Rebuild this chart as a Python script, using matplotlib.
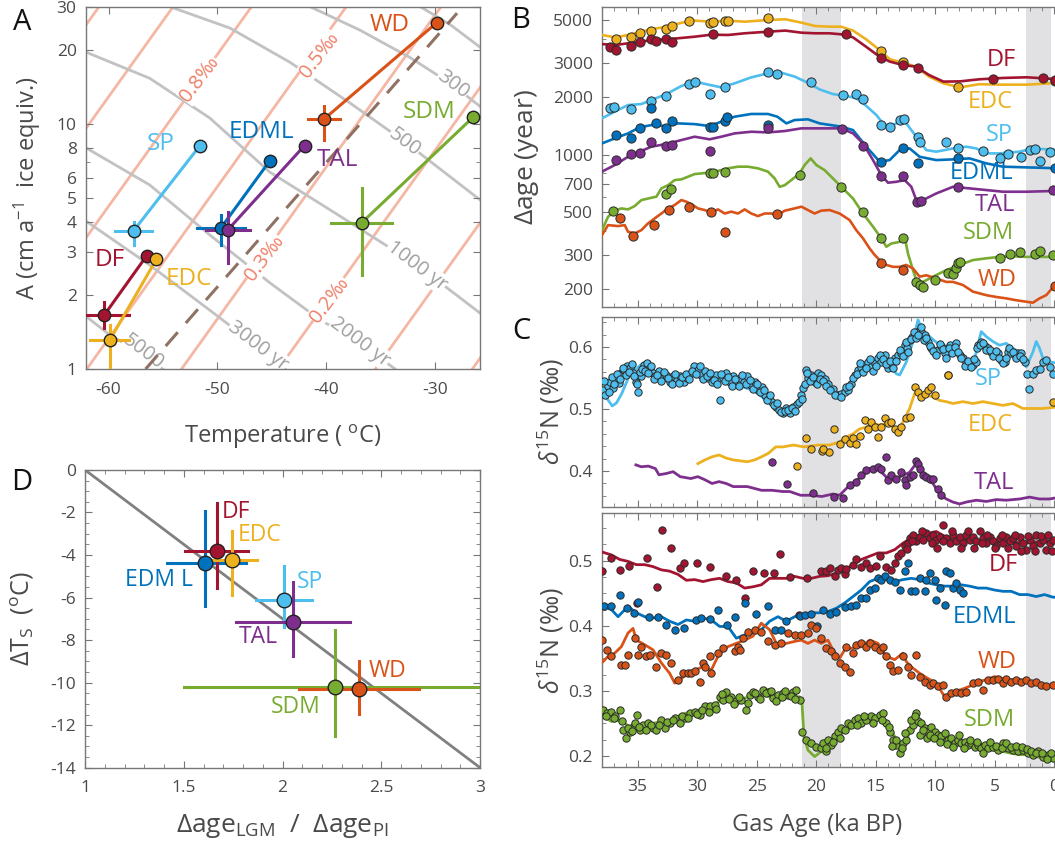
import numpy as np
import matplotlib.pyplot as plt
from matplotlib.ticker import MultipleLocator, FixedLocator, NullFormatter

plt.rcParams['font.family'] = ['Open Sans', 'DejaVu Sans']
plt.rcParams['mathtext.fontset'] = 'custom'
plt.rcParams['mathtext.rm'] = 'Open Sans'
plt.rcParams['mathtext.it'] = 'Open Sans:italic'
plt.rcParams['axes.unicode_minus'] = False

TXT = '#4a4a4a'
C_DF, C_EDC, C_SP = '#a2142f', '#edb120', '#4dbeee'
C_EDML, C_TAL, C_SDM, C_WD = '#0072bd', '#7e2f8e', '#77ac30', '#d95319'
BAND = '#e1e1e4'

# ---------------- panel A: accumulation vs temperature ----------------
a_sites = ['DF', 'EDC', 'SP', 'EDML', 'TAL', 'WD', 'SDM']
a_colors = [C_DF, C_EDC, C_SP, C_EDML, C_TAL, C_WD, C_SDM]
a_T_lgm = [-60.4, -59.9, -57.7, -49.7, -49.05, -40.2, -36.75]
a_A_lgm = [1.66, 1.31, 3.67, 3.76, 3.70, 10.5, 3.96]
a_T_pi = [-56.5, -55.6, -51.6, -45.2, -42.0, -29.85, -26.5]
a_A_pi = [2.90, 2.81, 8.18, 7.08, 8.18, 26.0, 10.7]
a_T_err = [2.3, 1.8, 1.7, 2.2, 2.0, 1.45, 2.8]
a_A_lo = [1.47, 0.9, 3.21, 3.21, 2.70, 8.6, 2.42]
a_A_hi = [1.88, 1.51, 4.0, 4.26, 4.38, 11.9, 5.47]
a_label_T = [-61.3, -54.8, -56.5, -49.0, -40.9, -36.0, -33.0]
a_label_A = [2.79, 2.33, 8.3, 9.3, 7.14, 25.5, 11.2]

# delta-age contours (T, A)
age_contours = {
    '200': [(-31.39, 30.2), (-28.63, 25.5), (-25.87, 20.6)],
    '300': [(-41.51, 30.2), (-36.91, 24.2), (-32.31, 18.7), (-28.44, 14.5), (-25.87, 11.8)],
    '500': [(-54.39, 30.2), (-48.87, 24.7), (-43.35, 17.9), (-37.83, 12.2), (-32.77, 8.46),
            (-25.87, 4.9)],
    '1000': [(-62.21, 19.8), (-56.23, 15.4), (-50.71, 10.6), (-45.19, 6.37), (-39.67, 4.47),
             (-31.67, 2.66), (-25.87, 1.69)],
    '2000': [(-62.21, 8.07), (-56.23, 5.65), (-50.71, 3.53), (-45.19, 2.25), (-40.59, 1.59),
             (-36.91, 1.28), (-33.69, 1.0)],
    '3000': [(-62.21, 4.06), (-56.23, 2.66), (-50.71, 1.74), (-46.29, 1.23), (-43.81, 1.0)],
    '5000': [(-62.21, 1.66), (-59.91, 1.38), (-56.69, 1.14), (-55.03, 1.0)],
}
age_labels = [('300', -28.4, 14.5), ('500', -32.8, 8.46), ('1000 yr', -31.7, 2.64),
              ('2000 yr', -36.9, 1.29), ('3000 yr', -46.3, 1.24), ('5000', -56.8, 1.17)]
# d15N contours: temperature where each line meets A = 1 and A = 40
d15n_lines = [(-84.7, -58.9), (-77.9, -52.1), (-70.7, -44.9), (-62.0, -36.2),
              (-53.3, -27.5), (-44.4, -18.6), (-35.5, -9.7), (-26.6, -0.8)]
d15n_labels = [('0.8‰', -51.6, 15.2), ('0.5‰', -40.6, 19.2), ('0.3‰', -45.7, 2.84), ('0.2‰', -39.7, 1.91)]
a_dash_T = [-56.6, -28.0]
a_dash_A = [1.0, 28.4]

# ---------------- panel B: delta age ----------------
b_edc_line = [(38.0, 4180), (36.9, 4063), (35.8, 4180), (34.7, 4348), (33.85, 4475), (32.6, 4615),
              (31.3, 4840), (30.2, 4963), (28.8, 4900), (27.4, 4963), (26.0, 4900), (24.05, 5000),
              (22.6, 5047), (21.2, 4840), (20.1, 4653), (18.9, 4620), (17.9, 4615), (16.9, 4405),
              (15.8, 3970), (14.66, 3491), (13.8, 3126), (12.7, 3000), (11.6, 2862), (10.5, 2541),
              (9.3, 2344), (7.9, 2234), (6.3, 2320), (4.3, 2307), (2.3, 2307), (-0.5, 2360)]
b_edc_dots = [(36.79, 3970), (35.59, 4063), (34.83, 4266), (33.85, 4405), (32.59, 4475), (32.11, 4653),
              (30.69, 4963), (28.95, 4840), (28.67, 4900), (27.69, 4963), (27.41, 4963), (24.05, 5100),
              (14.52, 3450), (12.70, 3040), (8.08, 2250), (-0.1, 2400)]
b_df_line = [(38.0, 3750), (36.9, 3707), (35.8, 3784), (34.8, 3848), (33.85, 3936), (32.6, 3970),
             (31.6, 4020), (30.2, 4096), (28.8, 4195), (27.4, 4180), (26.0, 4266), (24.05, 4348),
             (22.6, 4405), (21.2, 4295), (20.1, 4266), (18.9, 4266), (17.9, 4215), (16.9, 4063),
             (15.8, 3631), (14.66, 3222), (13.8, 3040), (12.7, 2917), (11.6, 2862), (10.5, 2588),
             (9.3, 2393), (7.9, 2400), (6.3, 2460), (4.3, 2500), (2.3, 2520), (-0.5, 2460)]
b_df_dots = [(37.35, 3631), (36.79, 3491), (35.59, 3664), (34.83, 3857), (33.85, 3970), (33.43, 3906),
             (32.59, 3970), (32.11, 3830), (28.67, 4215), (24.05, 4313), (17.47, 4215), (14.52, 3187),
             (12.70, 2917), (11.44, 2805), (5.14, 2478), (0.94, 2510), (-0.04, 2438)]
b_sp_line = [(38.0, 1542), (36.93, 1671), (35.81, 1808), (34.69, 1830), (33.85, 1919), (32.59, 2061),
             (31.33, 2270), (30.21, 2393), (28.95, 2300), (27.97, 2234), (26.85, 2344), (25.45, 2518),
             (24.05, 2642), (22.93, 2663), (21.81, 2541), (20.69, 2360), (19.71, 2180), (18.59, 2061),
             (17.47, 2015), (16.63, 1963), (15.78, 1788), (14.94, 1605), (14.38, 1452), (13.82, 1396),
             (12.98, 1481), (12.42, 1452), (11.58, 1238), (10.74, 1055), (9.90, 1035), (8.50, 1076),
             (7.38, 1099), (6.54, 1076), (5.70, 1014), (4.58, 1014), (2.90, 1035), (1.78, 1076),
             (-0.5, 1055)]
b_sp_dots = [(37.35, 1738), (36.99, 1774), (35.59, 1716), (33.85, 1897), (32.59, 2023), (30.69, 2326),
             (30.21, 2393), (28.95, 2061), (27.69, 2252), (24.05, 2672), (23.26, 2620), (20.46, 2393),
             (17.75, 2037), (16.63, 2053), (16.06, 1942), (14.52, 1423), (13.82, 1385), (12.98, 1511),
             (12.65, 1530), (11.44, 1238), (11.30, 1166), (9.06, 1157), (8.08, 1084), (5.98, 1045),
             (4.58, 955), (3.88, 1006), (2.76, 974), (2.06, 1055), (1.64, 1065), (1.22, 929), (0.38, 1035)]
b_edml_line = [(38.0, 1143), (36.93, 1213), (35.81, 1288), (34.83, 1385), (33.85, 1423), (32.59, 1406),
               (31.61, 1452), (30.21, 1439), (28.95, 1406), (27.97, 1482), (26.85, 1573), (25.45, 1625),
               (24.05, 1625), (23.26, 1573), (22.50, 1452), (21.81, 1511), (20.69, 1524), (19.71, 1452),
               (17.88, 1396), (16.90, 1340), (15.78, 1099), (14.66, 918), (13.82, 936), (12.98, 1055),
               (12.14, 1076), (11.30, 974), (9.90, 936), (8.50, 944), (7.10, 955), (5.70, 900),
               (4.30, 865), (2.34, 858), (-0.5, 848)]
b_edml_dots = [(36.79, 1262), (35.59, 1222), (34.83, 1368), (33.85, 1738), (33.49, 1452), (32.59, 1368),
               (32.11, 1486), (28.95, 1396), (28.67, 1396), (27.69, 1500), (27.46, 1573), (24.05, 1423),
               (14.52, 918), (12.70, 1084), (11.44, 900), (8.08, 955), (-0.04, 848)]
b_tal_line = [(38.0, 815), (36.93, 882), (35.81, 974), (34.83, 1035), (33.85, 1099), (32.59, 1135),
              (31.33, 1189), (30.21, 1238), (28.95, 1200), (27.97, 1238), (26.85, 1288), (25.45, 1314),
              (24.05, 1303), (22.64, 1325), (21.24, 1368), (20.13, 1368), (17.88, 1368), (16.90, 1288),
              (16.06, 1143), (15.22, 936), (14.52, 782), (13.96, 714), (13.26, 722), (12.56, 737),
              (12.00, 680), (11.58, 580), (11.02, 580), (9.90, 628), (8.50, 680), (7.10, 667),
              (5.70, 654), (4.30, 641), (2.34, 641), (-0.5, 648)]
b_tal_dots = [(36.79, 936), (35.59, 1006), (34.83, 1014), (33.85, 1166), (32.59, 1111), (32.11, 1122),
              (28.95, 1043), (24.05, 1377), (17.80, 1352), (16.06, 1111), (14.52, 776), (12.70, 776),
              (11.50, 569), (11.16, 573), (8.08, 680), (0.10, 654)]
b_sdm_line = [(38.0, 405), (37.49, 475), (36.93, 511), (36.37, 525), (35.81, 519), (35.25, 540),
              (34.69, 580), (34.13, 591), (33.43, 604), (33.01, 667), (32.45, 693), (31.89, 737),
              (31.33, 743), (30.77, 767), (30.21, 792), (29.65, 798), (29.09, 805), (28.53, 815),
              (27.97, 830), (27.41, 848), (26.57, 865), (25.73, 865), (24.89, 848), (24.05, 815),
              (23.49, 752), (23.07, 680), (22.64, 693), (22.09, 737), (21.39, 798), (20.97, 882),
              (20.46, 955), (19.98, 882), (19.29, 830), (18.87, 782), (17.88, 680), (16.90, 591),
              (16.06, 494), (15.22, 422), (14.52, 367), (14.10, 332), (13.68, 345), (12.98, 352),
              (12.56, 374), (12.28, 306), (11.86, 251), (11.58, 223), (11.02, 218), (10.18, 232),
              (9.06, 251), (7.94, 267), (6.82, 283), (5.70, 289), (4.58, 294), (3.46, 296),
              (2.34, 294), (1.22, 294), (-0.5, 294)]
b_sdm_dots = [(37.07, 508), (32.59, 623), (32.17, 659), (28.95, 805), (28.67, 805), (27.69, 815),
              (21.39, 782), (17.88, 680), (16.06, 505), (14.52, 370), (12.70, 370), (11.58, 218),
              (11.30, 210), (11.02, 206), (10.04, 223), (8.92, 243), (8.50, 241), (8.28, 256),
              (8.08, 272), (7.94, 277), (4.58, 289), (3.74, 306), (2.90, 310), (1.64, 306),
              (1.22, 316), (0.10, 301)]
b_wd_line = [(38.0, 382), (37.49, 430), (36.65, 425), (36.09, 430), (35.81, 397), (35.25, 389),
             (34.69, 405), (34.13, 439), (33.57, 466), (33.01, 494), (32.45, 525), (31.89, 547),
             (31.33, 580), (30.91, 569), (30.49, 553), (29.93, 525), (29.37, 515), (28.81, 500),
             (28.25, 519), (27.69, 494), (27.13, 505), (26.57, 494), (26.01, 519), (25.45, 494),
             (24.89, 479), (24.33, 494), (23.77, 494), (23.21, 485), (22.64, 511), (21.81, 525),
             (21.24, 536), (20.69, 515), (20.13, 494), (19.57, 511), (18.87, 515), (18.03, 494),
             (17.19, 457), (16.63, 405), (16.06, 367), (15.50, 325), (15.08, 301), (14.66, 283),
             (14.10, 267), (13.54, 261), (12.98, 261), (12.42, 267), (11.86, 256), (11.30, 232),
             (10.74, 236), (9.90, 227), (9.06, 218), (8.50, 218), (7.66, 210), (6.82, 194),
             (6.26, 190), (5.70, 186), (4.86, 182), (4.02, 179), (3.18, 175), (2.34, 172),
             (1.78, 170), (1.22, 179), (0.66, 186), (0.10, 204), (-0.5, 210)]
b_wd_dots = [(36.51, 470), (35.39, 378), (33.63, 430), (32.39, 515), (30.69, 536), (28.81, 505),
             (27.63, 394), (23.26, 494), (14.52, 272), (12.70, 251), (-0.04, 207)]
b_labels = [('DF', 3.18, 3097, C_DF), ('EDC', 3.5, 1882, C_EDC), ('SP', 3.5, 1262, C_SP),
            ('EDML', 3.45, 798, C_EDML), ('TAL', 3.3, 546, C_TAL), ('SDM', 3.4, 389, C_SDM),
            ('WD', 3.18, 223, C_WD)]

# ---------------- panel C (upper): SP, EDC, TAL d15N ----------------
c_sp_line = [(37.97, 0.530), (37.5, 0.515), (37.14, 0.505), (36.78, 0.510), (36.34, 0.525),
             (35.9, 0.545), (35.6, 0.560), (35.15, 0.565), (34.7, 0.572), (34.4, 0.575), (34.1, 0.565),
             (33.5, 0.560), (32.9, 0.555), (32.0, 0.545), (31.1, 0.545), (30.24, 0.560), (29.64, 0.565),
             (28.75, 0.550), (27.86, 0.545), (26.97, 0.540), (26.07, 0.535), (25.18, 0.530),
             (24.29, 0.515), (23.4, 0.505), (22.8, 0.495), (22.21, 0.497), (21.61, 0.510),
             (21.02, 0.530), (20.42, 0.555), (19.71, 0.555), (18.87, 0.533), (18.03, 0.525),
             (17.19, 0.541), (16.35, 0.557), (15.50, 0.571), (14.66, 0.576), (13.82, 0.571),
             (13.26, 0.557), (12.98, 0.555), (12.42, 0.576), (11.86, 0.609), (11.44, 0.644),
             (11.02, 0.625), (10.46, 0.617), (9.62, 0.603), (8.78, 0.601), (7.94, 0.592),
             (7.38, 0.576), (6.82, 0.571), (6.54, 0.592), (6.12, 0.625), (5.70, 0.617), (5.14, 0.609),
             (4.58, 0.603), (4.02, 0.606), (3.46, 0.598), (2.90, 0.592), (2.34, 0.568), (1.78, 0.592),
             (1.50, 0.609), (1.22, 0.598), (0.94, 0.582), (0.38, 0.576), (-0.5, 0.574)]
c_sp_dots = [(37.91, 0.531), (37.73, 0.523), (37.52, 0.537), (37.32, 0.544), (37.08, 0.534),
             (36.84, 0.550), (36.60, 0.542), (36.36, 0.558), (36.13, 0.563), (35.89, 0.569),
             (35.65, 0.566), (35.41, 0.558), (35.18, 0.544), (34.94, 0.528), (34.70, 0.553),
             (34.46, 0.571), (34.22, 0.574), (33.98, 0.566), (33.75, 0.558), (33.51, 0.553),
             (33.21, 0.561), (32.91, 0.550), (32.62, 0.555), (32.32, 0.544), (32.02, 0.553),
             (31.73, 0.547), (31.43, 0.553), (31.13, 0.544), (30.83, 0.550), (30.54, 0.558),
             (30.24, 0.569), (29.94, 0.563), (29.64, 0.555), (29.35, 0.561), (29.05, 0.550),
             (28.75, 0.544), (28.45, 0.555), (28.10, 0.515), (27.86, 0.550), (27.56, 0.558),
             (27.26, 0.544), (26.97, 0.553), (26.67, 0.542), (26.37, 0.550), (26.07, 0.544),
             (25.78, 0.553), (25.48, 0.539), (25.18, 0.544), (24.88, 0.531), (24.59, 0.536),
             (24.29, 0.523), (23.99, 0.518), (23.69, 0.512), (23.40, 0.504), (23.10, 0.499),
             (22.80, 0.493), (22.50, 0.501), (22.21, 0.493), (21.91, 0.504), (21.61, 0.509),
             (21.31, 0.523), (21.08, 0.534), (20.87, 0.563), (20.66, 0.550), (20.42, 0.555),
             (20.12, 0.544), (19.83, 0.558), (19.57, 0.555), (19.29, 0.549), (19.01, 0.541),
             (18.59, 0.533), (18.17, 0.522), (17.88, 0.525), (17.61, 0.528), (17.33, 0.530),
             (17.04, 0.541), (16.76, 0.555), (16.48, 0.563), (16.20, 0.568), (15.92, 0.571),
             (15.64, 0.576), (15.36, 0.568), (15.08, 0.574), (14.80, 0.582), (14.52, 0.576),
             (14.24, 0.587), (13.96, 0.566), (13.68, 0.571), (13.40, 0.582), (13.12, 0.587),
             (12.84, 0.590), (12.56, 0.603), (12.37, 0.598), (12.14, 0.611), (11.92, 0.617),
             (11.72, 0.619), (11.53, 0.625), (11.30, 0.627), (11.08, 0.622), (10.88, 0.619),
             (10.60, 0.609), (10.32, 0.598), (10.04, 0.590), (9.76, 0.595), (9.48, 0.601),
             (9.20, 0.590), (8.92, 0.555), (8.73, 0.603), (8.50, 0.595), (8.22, 0.606), (7.94, 0.587),
             (7.66, 0.582), (7.38, 0.576), (7.10, 0.574), (6.82, 0.571), (6.60, 0.576), (6.40, 0.603),
             (6.12, 0.609), (5.84, 0.601), (5.56, 0.598), (5.28, 0.592), (5.00, 0.587), (4.72, 0.590),
             (4.44, 0.579), (4.16, 0.576), (3.88, 0.592), (3.60, 0.590), (3.31, 0.587), (3.04, 0.590),
             (2.76, 0.590), (2.48, 0.576), (2.28, 0.557), (2.11, 0.532), (1.78, 0.557), (1.50, 0.563),
             (1.22, 0.565), (0.94, 0.576), (0.66, 0.579), (0.38, 0.568), (0.10, 0.557),
             (37.8, 0.545), (37.4, 0.528), (37.2, 0.551), (36.95, 0.540), (36.7, 0.556), (36.45, 0.548),
             (36.25, 0.566), (36.0, 0.555), (35.75, 0.560), (35.5, 0.572), (35.3, 0.553), (35.05, 0.540),
             (34.8, 0.560), (34.6, 0.565), (34.35, 0.562), (34.1, 0.558), (33.85, 0.570), (33.6, 0.548),
             (33.35, 0.555), (33.05, 0.545), (32.75, 0.560), (32.45, 0.550), (32.15, 0.540),
             (31.85, 0.556), (31.55, 0.542), (31.3, 0.551), (30.95, 0.556), (30.7, 0.548), (30.4, 0.562),
             (30.1, 0.557), (29.8, 0.570), (29.5, 0.548), (29.2, 0.553), (28.9, 0.558), (28.6, 0.547),
             (28.3, 0.541), (28.0, 0.556), (27.7, 0.545), (27.4, 0.552), (27.1, 0.538), (26.8, 0.548),
             (26.5, 0.538), (26.2, 0.555), (25.9, 0.540), (25.6, 0.547), (25.3, 0.532), (25.0, 0.540),
             (24.7, 0.527), (24.4, 0.530), (24.15, 0.515), (23.85, 0.522), (23.55, 0.507),
             (23.25, 0.510), (22.95, 0.496), (22.65, 0.497), (22.35, 0.498), (22.05, 0.502),
             (21.75, 0.497), (21.45, 0.512), (21.2, 0.517), (20.95, 0.540), (20.75, 0.558),
             (20.55, 0.545), (20.25, 0.552), (19.95, 0.540), (19.7, 0.548), (19.4, 0.545),
             (19.15, 0.538), (18.85, 0.530), (18.4, 0.523), (17.95, 0.520), (17.5, 0.535),
             (17.2, 0.537), (16.9, 0.550), (16.6, 0.557), (16.35, 0.575), (16.05, 0.560), (15.8, 0.566),
             (15.5, 0.580), (15.2, 0.562), (14.95, 0.570), (14.65, 0.588), (14.4, 0.580), (14.1, 0.572),
             (13.8, 0.578), (13.55, 0.566), (13.25, 0.577), (12.95, 0.595), (12.7, 0.585),
             (12.45, 0.608), (12.25, 0.592), (12.0, 0.613), (11.8, 0.625), (11.6, 0.615), (11.4, 0.620),
             (11.2, 0.632), (10.95, 0.612), (10.75, 0.615), (10.45, 0.602), (10.2, 0.593), (9.9, 0.587),
             (9.6, 0.605), (9.35, 0.597), (9.05, 0.582), (8.85, 0.598), (8.6, 0.590), (8.35, 0.600),
             (8.1, 0.592), (7.8, 0.583), (7.5, 0.570), (7.25, 0.578), (6.95, 0.568), (6.7, 0.580),
             (6.5, 0.598), (6.25, 0.604), (5.95, 0.606), (5.7, 0.595), (5.4, 0.596), (5.15, 0.585),
             (4.85, 0.593), (4.6, 0.583), (4.3, 0.574), (4.0, 0.583), (3.75, 0.598), (3.45, 0.592),
             (3.2, 0.582), (2.9, 0.586), (2.6, 0.580)]
c_edc_line = [(29.94, 0.412), (29.35, 0.418), (28.75, 0.423), (28.16, 0.426), (27.56, 0.421),
              (26.97, 0.418), (25.78, 0.415), (25.18, 0.418), (24.59, 0.423), (23.99, 0.429),
              (23.40, 0.439), (22.80, 0.439), (21.91, 0.442), (21.02, 0.439), (19.83, 0.442),
              (18.87, 0.442), (18.03, 0.447), (17.47, 0.455), (16.90, 0.460), (16.35, 0.468),
              (15.78, 0.471), (15.22, 0.477), (14.66, 0.474), (14.10, 0.477), (13.54, 0.471),
              (12.98, 0.468), (12.56, 0.485), (12.14, 0.501), (11.72, 0.525), (11.30, 0.528),
              (10.74, 0.522), (10.18, 0.520), (9.62, 0.514), (9.06, 0.512), (8.50, 0.509),
              (7.66, 0.512), (6.82, 0.509), (5.98, 0.512), (5.14, 0.509), (4.30, 0.506), (3.46, 0.509),
              (2.62, 0.501), (1.78, 0.501), (0.94, 0.501), (-0.5, 0.504)]
c_edc_dots = [(21.61, 0.409), (20.87, 0.454), (20.42, 0.435), (19.53, 0.433), (18.94, 0.430),
              (19.43, 0.436), (18.53, 0.468), (18.03, 0.444), (17.61, 0.452), (17.19, 0.446),
              (16.90, 0.453), (16.62, 0.444), (16.35, 0.457), (15.92, 0.482), (15.64, 0.468),
              (15.36, 0.479), (15.08, 0.471), (14.80, 0.455), (14.52, 0.471), (14.24, 0.485),
              (13.96, 0.477), (13.68, 0.479), (13.40, 0.468), (13.12, 0.463), (12.84, 0.471),
              (12.42, 0.485), (12.14, 0.487), (11.72, 0.536), (11.44, 0.528), (11.16, 0.520),
              (10.88, 0.525), (10.60, 0.530), (10.32, 0.536), (10.04, 0.522), (8.92, 0.555),
              (0.10, 0.512)]
c_tal_line = [(35.15, 0.410), (34.70, 0.407), (34.10, 0.408), (33.51, 0.404), (33.21, 0.394),
              (32.62, 0.396), (32.02, 0.399), (31.43, 0.391), (30.53, 0.388), (29.94, 0.391),
              (29.35, 0.386), (28.75, 0.380), (28.16, 0.383), (27.56, 0.380), (26.97, 0.375),
              (25.78, 0.375), (24.59, 0.369), (23.69, 0.369), (22.80, 0.367), (22.21, 0.367),
              (21.31, 0.361), (20.42, 0.361), (19.53, 0.359), (18.59, 0.363), (18.03, 0.361),
              (17.61, 0.369), (17.19, 0.377), (16.62, 0.385), (16.06, 0.393), (15.50, 0.404),
              (14.94, 0.406), (14.66, 0.401), (14.24, 0.393), (13.82, 0.385), (13.26, 0.388),
              (12.70, 0.393), (12.14, 0.398), (11.72, 0.409), (11.44, 0.415), (11.16, 0.398),
              (10.74, 0.388), (10.18, 0.380), (9.62, 0.363), (9.06, 0.355), (8.50, 0.350),
              (7.94, 0.347), (7.38, 0.350), (6.54, 0.353), (5.70, 0.351), (4.86, 0.354),
              (4.02, 0.353), (2.90, 0.355), (2.06, 0.358), (1.22, 0.355), (0.38, 0.355), (-0.5, 0.358)]
c_tal_dots = [(23.69, 0.414), (22.45, 0.379), (20.27, 0.365), (18.49, 0.359), (17.75, 0.357),
              (17.19, 0.377), (16.62, 0.382), (16.20, 0.393), (15.78, 0.401), (15.22, 0.404),
              (14.80, 0.406), (14.52, 0.404), (14.10, 0.423), (13.96, 0.385), (13.68, 0.393),
              (13.26, 0.388), (12.84, 0.398), (12.56, 0.385), (12.42, 0.377), (12.14, 0.390),
              (11.86, 0.393), (11.58, 0.417), (11.44, 0.412), (11.30, 0.404), (11.02, 0.393),
              (10.74, 0.390), (10.46, 0.388), (10.18, 0.388), (9.76, 0.371), (9.48, 0.361)]
c_up_labels = [('SP', 4.36, 0.549, C_SP), ('EDC', 3.51, 0.474, C_EDC), ('TAL', 3.32, 0.380, C_TAL)]

# ---------------- panel C (lower): DF, EDML, WD, SDM d15N ----------------
c_df_line = [(37.91, 0.513), (37.21, 0.509), (36.51, 0.502), (35.81, 0.499), (35.11, 0.494),
             (34.41, 0.494), (33.71, 0.491), (33.01, 0.486), (32.31, 0.484), (31.61, 0.479),
             (30.91, 0.470), (30.21, 0.471), (29.51, 0.468), (28.81, 0.471), (28.11, 0.473),
             (27.41, 0.468), (26.71, 0.466), (26.01, 0.458), (25.31, 0.460), (24.61, 0.463),
             (23.91, 0.473), (23.21, 0.473), (22.51, 0.473), (21.81, 0.476), (21.11, 0.473),
             (20.41, 0.473), (19.71, 0.476), (19.01, 0.477), (18.30, 0.481), (17.61, 0.486),
             (16.90, 0.494), (16.20, 0.502), (15.50, 0.507), (14.80, 0.512), (14.10, 0.512),
             (13.40, 0.517), (12.70, 0.527), (12.00, 0.535), (11.30, 0.540), (10.60, 0.542),
             (9.90, 0.545), (8.5, 0.530), (7.0, 0.532), (5.5, 0.528), (4.0, 0.530), (2.5, 0.527),
             (1.0, 0.530), (-0.5, 0.528)]
c_df_dots = [(37.99, 0.484), (37.27, 0.505), (36.51, 0.486), (35.76, 0.492), (35.03, 0.435),
             (34.19, 0.504), (33.35, 0.460), (32.95, 0.548), (32.23, 0.520), (31.47, 0.489),
             (31.11, 0.497), (30.04, 0.496), (28.92, 0.490), (27.55, 0.476), (26.71, 0.471),
             (26.01, 0.443), (25.28, 0.484), (24.38, 0.481), (23.54, 0.481), (23.01, 0.511),
             (22.17, 0.475), (21.47, 0.417), (20.74, 0.474), (19.57, 0.484), (19.15, 0.485),
             (18.87, 0.489), (18.45, 0.476), (18.17, 0.486), (17.88, 0.489), (17.61, 0.479),
             (17.47, 0.487), (16.90, 0.494), (16.62, 0.502), (16.20, 0.491), (15.78, 0.496),
             (15.50, 0.489), (14.94, 0.492), (14.66, 0.507), (14.10, 0.491), (13.68, 0.486),
             (13.40, 0.496), (13.12, 0.507), (12.84, 0.512), (12.56, 0.522), (12.28, 0.527),
             (12.14, 0.535), (11.86, 0.540), (11.58, 0.530), (11.30, 0.537), (11.02, 0.532),
             (10.74, 0.543), (10.46, 0.535), (10.18, 0.540), (9.90, 0.532), (9.62, 0.537),
             (9.34, 0.555), (9.06, 0.535), (8.78, 0.527), (8.50, 0.540), (8.22, 0.530), (7.94, 0.537),
             (7.66, 0.527), (7.38, 0.540), (7.10, 0.532), (6.82, 0.537), (6.54, 0.530), (6.26, 0.545),
             (5.98, 0.535), (5.70, 0.527), (5.42, 0.537), (5.14, 0.530), (4.86, 0.522), (4.58, 0.535),
             (4.30, 0.527), (4.02, 0.537), (3.74, 0.530), (3.46, 0.535), (3.18, 0.522), (2.90, 0.537),
             (2.62, 0.527), (2.34, 0.517), (2.06, 0.532), (1.78, 0.522), (1.50, 0.540), (1.22, 0.527),
             (0.94, 0.532), (0.66, 0.517), (0.38, 0.527), (0.10, 0.532),
             (12.4, 0.518), (11.9, 0.530), (11.1, 0.545), (10.3, 0.528), (9.8, 0.520), (9.3, 0.530),
             (8.6, 0.545), (7.8, 0.520), (7.2, 0.545), (6.7, 0.520), (6.1, 0.528), (5.6, 0.540),
             (5.0, 0.520), (4.4, 0.540), (3.9, 0.520), (3.3, 0.540), (2.8, 0.515), (2.2, 0.538),
             (1.6, 0.515), (1.1, 0.538), (0.5, 0.540), (0.2, 0.515)]
c_edml_line = [(37.91, 0.430), (37.21, 0.425), (36.65, 0.414), (35.81, 0.430), (35.11, 0.420),
               (34.41, 0.414), (33.71, 0.412), (33.01, 0.414), (32.31, 0.407), (31.61, 0.402),
               (30.91, 0.409), (30.21, 0.407), (29.51, 0.412), (28.81, 0.409), (28.11, 0.399),
               (27.41, 0.399), (26.71, 0.381), (26.01, 0.386), (25.31, 0.389), (24.61, 0.394),
               (23.91, 0.407), (23.21, 0.414), (22.51, 0.407), (21.81, 0.414), (21.11, 0.417),
               (20.41, 0.420), (19.71, 0.420), (19.01, 0.422), (18.30, 0.427), (17.61, 0.435),
               (16.90, 0.445), (16.20, 0.455), (15.50, 0.468), (14.80, 0.473), (14.10, 0.471),
               (13.40, 0.468), (12.70, 0.471), (12.00, 0.473), (11.30, 0.471), (10.60, 0.466),
               (9.90, 0.463), (9.20, 0.461), (8.50, 0.461), (7.80, 0.463), (7.10, 0.461),
               (6.40, 0.458), (5.70, 0.458), (5.00, 0.455), (4.30, 0.453), (3.60, 0.453),
               (2.90, 0.448), (2.20, 0.448), (1.50, 0.445), (0.80, 0.448), (0.10, 0.444), (-0.5, 0.444)]
c_edml_dots = [(37.83, 0.431), (37.21, 0.431), (36.51, 0.447), (35.87, 0.428), (35.31, 0.420),
               (34.97, 0.436), (34.05, 0.414), (33.29, 0.414), (32.65, 0.402), (31.83, 0.393),
               (31.11, 0.396), (30.07, 0.409), (29.65, 0.412), (28.95, 0.410), (28.25, 0.424),
               (27.46, 0.402), (26.85, 0.414), (26.01, 0.435), (25.03, 0.418), (24.05, 0.431),
               (23.49, 0.393), (22.93, 0.393), (22.51, 0.408), (21.39, 0.415), (20.90, 0.417),
               (20.41, 0.418), (19.90, 0.399), (19.43, 0.425), (18.87, 0.418), (18.30, 0.422),
               (17.61, 0.429), (17.04, 0.430), (16.62, 0.432), (16.20, 0.443), (15.78, 0.443),
               (15.50, 0.455), (15.08, 0.458), (14.80, 0.473), (14.52, 0.471), (14.24, 0.476),
               (13.82, 0.471), (13.40, 0.468), (12.98, 0.455), (12.56, 0.484), (12.28, 0.496),
               (12.00, 0.453), (11.72, 0.453), (11.30, 0.473), (10.88, 0.453), (10.74, 0.471),
               (10.46, 0.481), (10.04, 0.471), (9.90, 0.440), (9.62, 0.458), (9.20, 0.432),
               (9.06, 0.484), (8.78, 0.481), (8.50, 0.458), (8.22, 0.466), (7.94, 0.455), (7.66, 0.450)]
c_wd_line = [(37.91, 0.345), (37.49, 0.353), (36.93, 0.358), (36.37, 0.368), (35.81, 0.389),
             (35.39, 0.396), (35.11, 0.378), (34.41, 0.371), (33.71, 0.363), (33.01, 0.343),
             (32.31, 0.327), (31.89, 0.312), (31.33, 0.319), (30.77, 0.327), (30.21, 0.332),
             (29.51, 0.337), (28.81, 0.332), (28.39, 0.348), (28.11, 0.358), (27.41, 0.368),
             (26.71, 0.373), (26.01, 0.378), (25.31, 0.384), (24.61, 0.404), (23.91, 0.394),
             (23.21, 0.368), (22.51, 0.373), (21.81, 0.376), (21.25, 0.378), (20.69, 0.373),
             (20.13, 0.378), (19.57, 0.373), (19.01, 0.378), (18.59, 0.363), (18.03, 0.350),
             (17.61, 0.363), (16.90, 0.366), (16.20, 0.368), (15.50, 0.378), (14.80, 0.373),
             (14.10, 0.353), (13.40, 0.348), (12.70, 0.358), (12.42, 0.345), (12.00, 0.337),
             (11.30, 0.327), (10.60, 0.319), (9.90, 0.312), (9.20, 0.291), (8.50, 0.299),
             (7.80, 0.302), (7.10, 0.307), (6.40, 0.314), (5.70, 0.317), (5.00, 0.322), (4.30, 0.319),
             (3.60, 0.317), (2.90, 0.317), (2.20, 0.314), (1.50, 0.312), (0.80, 0.309), (0.10, 0.307),
             (-0.5, 0.306)]
c_wd_dots = [(37.99, 0.378), (37.55, 0.363), (37.27, 0.353), (36.43, 0.340), (36.09, 0.340),
             (35.81, 0.355), (35.25, 0.381), (34.97, 0.355), (34.69, 0.368), (34.27, 0.353),
             (33.99, 0.355), (33.43, 0.337), (33.01, 0.358), (32.59, 0.355), (32.17, 0.343),
             (31.61, 0.317), (31.19, 0.327), (30.77, 0.327), (30.49, 0.327), (30.21, 0.330),
             (29.79, 0.314), (29.51, 0.343), (29.37, 0.337), (28.95, 0.353), (28.81, 0.327),
             (28.25, 0.358), (27.83, 0.366), (26.85, 0.361), (26.57, 0.368), (26.43, 0.363),
             (26.15, 0.381), (25.73, 0.391), (25.17, 0.394), (24.61, 0.391), (24.05, 0.376),
             (23.49, 0.371), (22.93, 0.373), (22.37, 0.389), (21.81, 0.386), (21.25, 0.386),
             (20.69, 0.389), (20.41, 0.402), (19.98, 0.396), (19.57, 0.381), (19.15, 0.366),
             (18.73, 0.361), (18.45, 0.353), (18.03, 0.343), (17.61, 0.337), (17.19, 0.329),
             (17.47, 0.368), (16.90, 0.358), (16.62, 0.371), (16.20, 0.373), (15.78, 0.368),
             (15.50, 0.373), (15.08, 0.368), (14.66, 0.363), (14.38, 0.368), (14.10, 0.353),
             (13.82, 0.340), (13.54, 0.330), (13.12, 0.332), (12.70, 0.353), (12.28, 0.337),
             (12.00, 0.325), (11.58, 0.355), (11.30, 0.322), (10.88, 0.314), (10.46, 0.309),
             (10.18, 0.312), (9.76, 0.307), (9.34, 0.309), (9.06, 0.291), (8.64, 0.296),
             (8.22, 0.299), (7.80, 0.296), (7.38, 0.299), (6.82, 0.312), (6.40, 0.314), (5.98, 0.302),
             (5.56, 0.317), (5.14, 0.317), (4.72, 0.319), (4.30, 0.312), (4.02, 0.319), (3.60, 0.314),
             (3.18, 0.317), (2.76, 0.314), (2.34, 0.317), (1.92, 0.312), (1.50, 0.314), (1.08, 0.309),
             (0.66, 0.307), (0.10, 0.309)]
c_sdm_line = [(37.91, 0.261), (37.21, 0.253), (36.51, 0.255), (36.09, 0.250), (35.53, 0.243),
              (35.11, 0.245), (34.41, 0.248), (33.71, 0.250), (33.01, 0.253), (32.31, 0.255),
              (31.61, 0.261), (30.91, 0.266), (30.21, 0.268), (29.51, 0.273), (28.81, 0.276),
              (28.11, 0.284), (27.41, 0.286), (26.71, 0.284), (26.01, 0.289), (25.31, 0.291),
              (24.61, 0.294), (23.91, 0.291), (23.21, 0.291), (22.51, 0.289), (21.81, 0.291),
              (21.39, 0.291), (21.19, 0.281), (21.02, 0.230), (20.69, 0.209), (20.13, 0.199),
              (19.57, 0.207), (19.01, 0.220), (18.30, 0.230), (17.61, 0.237), (16.90, 0.245),
              (16.20, 0.253), (15.50, 0.255), (14.80, 0.261), (14.10, 0.250), (13.40, 0.230),
              (12.98, 0.209), (12.70, 0.220), (12.28, 0.230), (11.86, 0.250), (11.44, 0.261),
              (11.16, 0.245), (10.60, 0.235), (9.90, 0.230), (9.20, 0.225), (8.50, 0.220),
              (7.80, 0.217), (7.10, 0.214), (6.40, 0.212), (5.70, 0.209), (5.00, 0.209), (4.30, 0.207),
              (3.60, 0.204), (2.90, 0.202), (2.20, 0.202), (1.50, 0.199), (0.80, 0.196), (0.10, 0.194),
              (-0.5, 0.194)]
c_sdm_dots = [(37.91, 0.271), (37.55, 0.266), (37.21, 0.268), (36.88, 0.261), (36.51, 0.271),
              (36.23, 0.240), (35.95, 0.227), (35.67, 0.237), (35.39, 0.245), (35.03, 0.263),
              (34.83, 0.240), (34.55, 0.248), (34.13, 0.250), (33.71, 0.243), (33.43, 0.240),
              (33.01, 0.255), (32.73, 0.243), (32.31, 0.250), (31.89, 0.258), (31.47, 0.250),
              (31.05, 0.258), (30.63, 0.266), (30.21, 0.268), (29.79, 0.263), (29.37, 0.276),
              (28.95, 0.276), (28.53, 0.278), (28.11, 0.291), (27.83, 0.286), (27.55, 0.299),
              (27.13, 0.291), (26.71, 0.284), (26.29, 0.286), (25.87, 0.271), (25.59, 0.294),
              (25.31, 0.299), (24.89, 0.291), (24.47, 0.302), (24.05, 0.299), (23.63, 0.289),
              (23.21, 0.294), (22.79, 0.296), (22.37, 0.294), (21.95, 0.299), (21.67, 0.302),
              (21.39, 0.286), (21.19, 0.237), (20.83, 0.225), (20.41, 0.220), (19.98, 0.214),
              (19.57, 0.212), (19.15, 0.207),
              (37.7, 0.262), (37.0, 0.258), (36.3, 0.253), (35.8, 0.243), (35.5, 0.238), (35.2, 0.250),
              (34.9, 0.245), (34.3, 0.240), (33.9, 0.247), (33.2, 0.248), (32.5, 0.252), (32.0, 0.255),
              (31.3, 0.262), (30.8, 0.258), (30.0, 0.265), (29.6, 0.270), (29.0, 0.268), (28.4, 0.272),
              (27.9, 0.295), (27.3, 0.288), (26.9, 0.280), (26.5, 0.290), (25.7, 0.281), (25.1, 0.297),
              (24.7, 0.288), (24.2, 0.296), (23.8, 0.300), (23.4, 0.285), (22.9, 0.290), (22.6, 0.300),
              (22.1, 0.292), (21.8, 0.288),
              (19.43, 0.220), (19.01, 0.225), (18.73, 0.217), (18.45, 0.230), (18.17, 0.237),
              (17.88, 0.243), (17.61, 0.240), (17.33, 0.250), (17.04, 0.248), (16.76, 0.255),
              (16.48, 0.258), (16.20, 0.250), (15.78, 0.255), (15.36, 0.261), (15.08, 0.258),
              (14.66, 0.263), (14.38, 0.266), (14.10, 0.250), (13.82, 0.237), (13.54, 0.225),
              (13.26, 0.217), (12.98, 0.204), (12.70, 0.220), (12.42, 0.225), (12.14, 0.240),
              (11.86, 0.248), (11.58, 0.266), (11.44, 0.253), (11.16, 0.250), (10.88, 0.243),
              (10.60, 0.237), (10.32, 0.245), (10.04, 0.237), (9.76, 0.232), (9.48, 0.230),
              (9.20, 0.235), (8.92, 0.225), (8.64, 0.227), (8.36, 0.220), (8.08, 0.225), (7.80, 0.220),
              (7.52, 0.222), (7.24, 0.217), (6.96, 0.220), (6.68, 0.214), (6.40, 0.217), (6.12, 0.212),
              (5.84, 0.217), (5.56, 0.212), (5.14, 0.214), (4.72, 0.209), (4.30, 0.220), (3.88, 0.212),
              (3.46, 0.209), (3.04, 0.207), (2.62, 0.209), (2.20, 0.204), (1.78, 0.202), (1.36, 0.207),
              (0.94, 0.199), (0.52, 0.202), (0.10, 0.197),
              (19.2, 0.212), (18.6, 0.222), (18.0, 0.228), (16.6, 0.248), (16.0, 0.262), (15.2, 0.250),
              (14.5, 0.255), (13.9, 0.245), (13.6, 0.215), (13.3, 0.225), (12.8, 0.212), (12.5, 0.235),
              (12.0, 0.255), (11.7, 0.262), (11.3, 0.232), (11.0, 0.240), (10.7, 0.228), (10.4, 0.232),
              (10.1, 0.228), (9.6, 0.222), (9.0, 0.218), (8.5, 0.214), (8.0, 0.232), (7.6, 0.212),
              (7.1, 0.225), (6.5, 0.222), (6.0, 0.205), (5.4, 0.222), (4.9, 0.215), (4.4, 0.212),
              (4.0, 0.220), (3.6, 0.214), (3.2, 0.215), (2.7, 0.213), (2.3, 0.210), (1.9, 0.208),
              (1.5, 0.205), (1.0, 0.205), (0.6, 0.195), (0.3, 0.205)]
c_lo_labels = [('DF', 3.04, 0.494, C_DF), ('EDML', 3.18, 0.414, C_EDML), ('WD', 3.18, 0.345, C_WD),
               ('SDM', 3.32, 0.255, C_SDM)]

# ---------------- panel D: temperature change vs delta-age ratio ----------------
d_sites = ['EDML', 'DF', 'EDC', 'SP', 'TAL', 'SDM', 'WD']
d_colors = [C_EDML, C_DF, C_EDC, C_SP, C_TAL, C_SDM, C_WD]
d_ratio = [1.608, 1.670, 1.742, 2.006, 2.055, 2.266, 2.387]
d_dT = [-4.36, -3.80, -4.23, -6.11, -7.13, -10.19, -10.30]
d_ratio_lo = [1.413, 1.506, 1.61, 1.866, 1.763, 1.503, 2.084]
d_ratio_hi = [1.814, 1.827, 1.873, 2.147, 2.342, 3.2, 2.691]
d_dT_lo = [-6.40, -5.56, -5.88, -7.40, -8.73, -12.51, -11.48]
d_dT_hi = [-1.93, -1.57, -2.87, -4.52, -5.28, -7.53, -8.97]
d_labels = [('EDM L', 1.548, -5.17, 'right'), ('DF', 1.692, -1.96, 'left'), ('EDC', 1.771, -3.06, 'left'),
            ('SP', 2.072, -5.25, 'left'), ('TAL', 1.974, -7.87, 'right'), ('SDM', 2.193, -11.13, 'right'),
            ('WD', 2.434, -9.44, 'left')]
d_fit_x = [1.0, 3.0]
d_fit_y = [0.0, -14.0]

lgm_band = (21.2, 17.9)
pi_band = (2.4, 0.3)


def style(ax):
    for s in ax.spines.values():
        s.set_color('#777777')
        s.set_linewidth(1.0)
    ax.tick_params(which='both', direction='in', top=True, right=True, colors='#777777',
                   labelcolor=TXT, labelsize=12.5)
    ax.tick_params(which='major', length=5)
    ax.tick_params(which='minor', length=3)
    ax.tick_params(axis='x', which='both', pad=9)
    ax.tick_params(axis='y', which='both', pad=6.5)


def dots(ax, pts, color, s=34, z=4):
    p = np.array(pts)
    ax.scatter(p[:, 0], p[:, 1], s=s, color=color, edgecolors='#2a2a2a', linewidths=0.7, zorder=z)


def line(ax, pts, color, lw=1.9):
    p = np.array(pts)
    ax.plot(p[:, 0], p[:, 1], color=color, lw=lw, zorder=3)


fig = plt.figure(figsize=(10.55, 8.41), dpi=100)

# ---- A ----
axA = fig.add_axes([0.0812, 0.5612, 0.3737, 0.4301])
axA.set_yscale('log')
for T0, T1 in d15n_lines:
    axA.plot([T0, T1], [1.0, 40.0], color='#f5b7a3', lw=2.0, zorder=1)
for name, pts in age_contours.items():
    p = np.array(pts)
    axA.plot(p[:, 0], p[:, 1], color='#c2c2c2', lw=2.0, zorder=1)
for txt, T, A in d15n_labels:
    axA.text(T, A, txt, color='#ee8069', fontsize=14.5, rotation=53, ha='center', va='center',
             bbox=dict(facecolor='white', edgecolor='none', pad=0.2), zorder=2)
for txt, T, A in age_labels:
    axA.text(T, A, txt, color='#a0a0a0', fontsize=14.5, rotation=-37, ha='center', va='center',
             bbox=dict(facecolor='white', edgecolor='none', pad=0.2), zorder=2)
axA.plot(a_dash_T, a_dash_A, color='#8f7264', lw=2.2, dashes=(6, 4), zorder=2)
for i, s in enumerate(a_sites):
    c = a_colors[i]
    axA.plot([a_T_lgm[i], a_T_pi[i]], [a_A_lgm[i], a_A_pi[i]], color=c, lw=2.2, zorder=3)
    axA.plot([a_T_lgm[i] - a_T_err[i], a_T_lgm[i] + a_T_err[i]], [a_A_lgm[i]] * 2, color=c, lw=2.2, zorder=3)
    axA.plot([a_T_lgm[i]] * 2, [a_A_lo[i], a_A_hi[i]], color=c, lw=2.2, zorder=3)
for i, s in enumerate(a_sites):
    c = a_colors[i]
    axA.scatter([a_T_lgm[i], a_T_pi[i]], [a_A_lgm[i], a_A_pi[i]], s=80, color=c,
                edgecolors='#222222', linewidths=1.0, zorder=5)
    axA.text(a_label_T[i], a_label_A[i], s, color=c, fontsize=17.5, ha='left', va='center', zorder=6)
axA.set_xlim(-62.1, -25.9)
axA.set_ylim(1, 30)
axA.xaxis.set_major_locator(MultipleLocator(10))
axA.yaxis.set_major_locator(FixedLocator([1, 2, 3, 4, 5, 6, 8, 10, 20, 30]))
axA.yaxis.set_minor_locator(FixedLocator([7]))
axA.yaxis.set_major_formatter(plt.FuncFormatter(lambda v, p: '%g' % v))
axA.yaxis.set_minor_formatter(NullFormatter())
style(axA)
axA.set_xlabel('Temperature ( $^{\\rm o}$C)', fontsize=17, color=TXT)
axA.xaxis.set_label_coords(0.5, -0.150)
axA.set_ylabel('A (cm a$^{-1}$  ice equiv.)', fontsize=17, color=TXT)
axA.yaxis.set_label_coords(-0.108, 0.5)

# ---- B ----
axB = fig.add_axes([0.5706, 0.6353, 0.4398, 0.3560])
axB.set_yscale('log')
axB.axvspan(*lgm_band, color=BAND, zorder=0, lw=0)
axB.axvspan(*pi_band, color=BAND, zorder=0, lw=0)
for ln, dt, c in [(b_edc_line, b_edc_dots, C_EDC), (b_df_line, b_df_dots, C_DF), (b_sp_line, b_sp_dots, C_SP),
                  (b_edml_line, b_edml_dots, C_EDML), (b_tal_line, b_tal_dots, C_TAL),
                  (b_sdm_line, b_sdm_dots, C_SDM), (b_wd_line, b_wd_dots, C_WD)]:
    line(axB, ln, c)
    dots(axB, dt, c, s=44)
for txt, x, y, c in b_labels:
    axB.text(x, y, txt, color=c, fontsize=17, ha='right', va='center')
axB.set_xlim(38, -1)
axB.set_ylim(162, 5820)
axB.yaxis.set_major_locator(FixedLocator([200, 300, 500, 700, 1000, 2000, 3000, 5000]))
axB.yaxis.set_major_formatter(plt.FuncFormatter(lambda v, p: '%d' % v))
axB.yaxis.set_minor_locator(FixedLocator([400, 600, 800, 900, 4000]))
axB.yaxis.set_minor_formatter(NullFormatter())
axB.xaxis.set_major_locator(MultipleLocator(5))
axB.xaxis.set_minor_locator(MultipleLocator(1))
style(axB)
axB.tick_params(labelbottom=False)
axB.set_ylabel('$\\Delta$age (year)', fontsize=19, color=TXT)
axB.yaxis.set_label_coords(-0.132, 0.5)

# ---- C upper ----
axC = fig.add_axes([0.5706, 0.3971, 0.4398, 0.2263])
axC.axvspan(*lgm_band, color=BAND, zorder=0, lw=0)
axC.axvspan(*pi_band, color=BAND, zorder=0, lw=0)
line(axC, c_sp_line, C_SP, lw=2.0)
dots(axC, c_sp_dots, C_SP, s=28)
line(axC, c_edc_line, C_EDC, lw=2.0)
dots(axC, c_edc_dots, C_EDC, s=28)
line(axC, c_tal_line, C_TAL, lw=2.0)
dots(axC, c_tal_dots, C_TAL, s=28)
for txt, x, y, c in c_up_labels:
    axC.text(x, y, txt, color=c, fontsize=17, ha='right', va='center')
axC.set_xlim(38, -1)
axC.set_ylim(0.342, 0.649)
axC.yaxis.set_major_locator(MultipleLocator(0.1))
axC.yaxis.set_minor_locator(MultipleLocator(0.02))
axC.xaxis.set_major_locator(MultipleLocator(5))
axC.xaxis.set_minor_locator(MultipleLocator(1))
style(axC)
axC.tick_params(labelbottom=False)
axC.set_ylabel('$\\it{\\delta}^{15}$N (‰)', fontsize=18, color=TXT)
axC.yaxis.set_label_coords(-0.078, 0.5)

# ---- C lower ----
axE = fig.add_axes([0.5706, 0.0880, 0.4398, 0.3017])
axE.axvspan(*lgm_band, color=BAND, zorder=0, lw=0)
axE.axvspan(*pi_band, color=BAND, zorder=0, lw=0)
line(axE, c_df_line, C_DF, lw=2.0)
dots(axE, c_df_dots, C_DF, s=28)
line(axE, c_edml_line, C_EDML, lw=2.0)
dots(axE, c_edml_dots, C_EDML, s=28)
line(axE, c_wd_line, C_WD, lw=2.0)
dots(axE, c_wd_dots, C_WD, s=28)
line(axE, c_sdm_line, C_SDM, lw=2.0)
dots(axE, c_sdm_dots, C_SDM, s=28)
for txt, x, y, c in c_lo_labels:
    axE.text(x, y, txt, color=c, fontsize=17, ha='right', va='center')
axE.set_xlim(38, -1)
axE.set_ylim(0.183, 0.573)
axE.yaxis.set_major_locator(MultipleLocator(0.1))
axE.yaxis.set_minor_locator(MultipleLocator(0.025))
axE.xaxis.set_major_locator(MultipleLocator(5))
axE.xaxis.set_minor_locator(MultipleLocator(1))
style(axE)
axE.set_ylabel('$\\it{\\delta}^{15}$N (‰)', fontsize=18, color=TXT)
axE.yaxis.set_label_coords(-0.078, 0.5)
axE.set_xlabel('Gas Age (ka BP)', fontsize=17, color=TXT)
axE.xaxis.set_label_coords(0.463, -0.180)

# ---- D ----
axD = fig.add_axes([0.0806, 0.0872, 0.3744, 0.3540])
axD.plot(d_fit_x, d_fit_y, color='#808080', lw=2.0, zorder=1)
for i in range(len(d_sites)):
    c = d_colors[i]
    axD.plot([d_ratio_lo[i], d_ratio_hi[i]], [d_dT[i]] * 2, color=c, lw=2.2, zorder=2 + i * 0.1)
    axD.plot([d_ratio[i]] * 2, [d_dT_lo[i], d_dT_hi[i]], color=c, lw=2.2, zorder=2 + i * 0.1)
for i in range(len(d_sites)):
    axD.scatter(d_ratio[i], d_dT[i], s=110, color=d_colors[i], edgecolors='#222222',
                linewidths=1.0, zorder=5)
for (txt, x, y, ha), c in zip(d_labels, d_colors):
    axD.text(x, y, txt, color=c, fontsize=16.5, ha=ha, va='center', zorder=6)
axD.set_xlim(1, 3)
axD.set_ylim(-14, 0)
axD.xaxis.set_major_locator(MultipleLocator(0.5))
axD.xaxis.set_minor_locator(MultipleLocator(0.1))
axD.yaxis.set_major_locator(MultipleLocator(2))
axD.yaxis.set_minor_locator(MultipleLocator(0.5))
axD.xaxis.set_major_formatter(plt.FuncFormatter(lambda v, p: '%g' % v))
style(axD)
axD.set_xlabel('$\\Delta$age$_{\\rm LGM}$  /  $\\Delta$age$_{\\rm PI}$', fontsize=19, color=TXT)
axD.xaxis.set_label_coords(0.5, -0.150)
axD.set_ylabel('$\\Delta$T$_{\\rm S}$  ($^{\\rm o}$C)', fontsize=18, color=TXT)
axD.yaxis.set_label_coords(-0.125, 0.5)

for letter, x, y in [('A', 22, 22), ('B', 521, 20), ('C', 521, 332), ('D', 22, 483)]:
    fig.text(x / 1055, 1 - y / 841, letter, fontsize=21, color='#111111', ha='center', va='center')

fig.savefig('out.png', dpi=100)
